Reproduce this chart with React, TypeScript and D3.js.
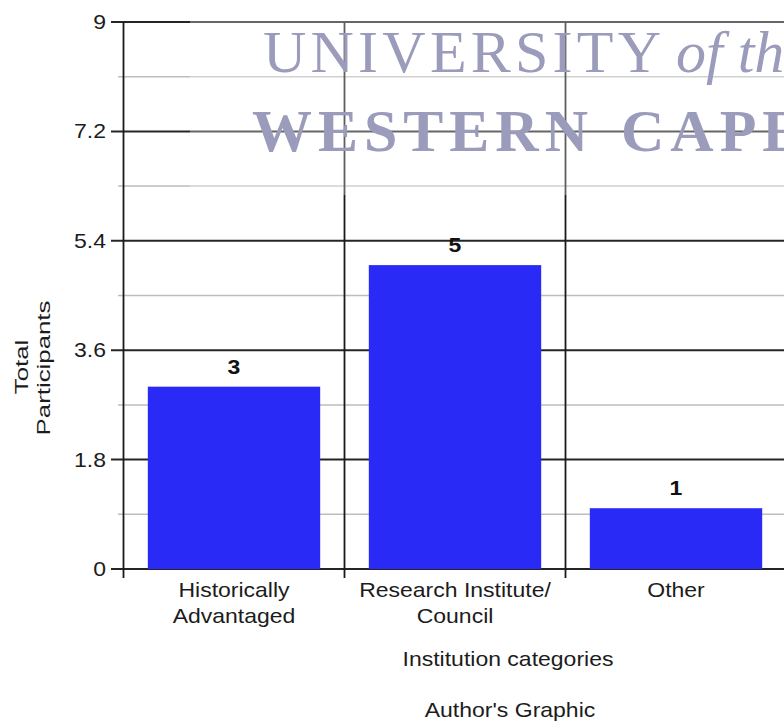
import React from "react";
import * as d3 from "d3";

// Institution categories (each entry split into its display lines)
const categories: string[][] = [
  ["Historically", "Advantaged"],
  ["Research Institute/", "Council"],
  ["Other"],
];
const participants: number[] = [3, 5, 1];

// Y axis ticks (labelled major lines) and unlabelled minor lines
const yTicks: number[] = [0, 1.8, 3.6, 5.4, 7.2, 9];
const yMinor: number[] = [0.9, 2.7, 4.5, 6.3, 8.1];

const yTitle: string[] = ["Total", "Participants"];
const xTitle = "Institution categories";
const caption = "Author's Graphic";

const W = 784;
const H = 722;
const FONT = "'Liberation Sans', Arial, Helvetica, sans-serif";
const SERIF = "'Liberation Serif', 'Times New Roman', Times, serif";
const SX = 1.15; // horizontal stretch applied to the chart lettering
const FS = 20;
const INK = "#1c1c1c";

const y = d3.scaleLinear().domain([0, 9]).range([569, 22]);
const x = d3
  .scaleBand<number>()
  .domain(categories.map((_, i) => i))
  .range([123.5, 786.5])
  .padding(0);
const barW = x.bandwidth() * 0.78;

const right = W + 10;
const bottom = y(0);

function HText({
  x: tx,
  y: ty,
  anchor = "middle",
  size = FS,
  weight = "normal",
  fill = INK,
  children,
}: {
  x: number;
  y: number;
  anchor?: string;
  size?: number;
  weight?: string;
  fill?: string;
  children: React.ReactNode;
}) {
  return (
    <text
      transform={`translate(${tx},${ty}) scale(${SX},1)`}
      textAnchor={anchor}
      fontSize={size}
      fontWeight={weight}
      fontFamily={FONT}
      fill={fill}
    >
      {children}
    </text>
  );
}

export default function App() {
  const boundaries = x.domain().map((d) => x(d) as number);
  return (
    <svg
      width={W}
      height={H}
      style={{ position: "absolute", left: 0, top: 0, background: "#fff" }}
    >
      <rect x={0} y={0} width={W} height={H} fill="#fff" />

      {/* minor grid lines */}
      {yMinor.map((t) => (
        <line
          key={`m${t}`}
          x1={118}
          x2={right}
          y1={y(t)}
          y2={y(t)}
          stroke="#bdbdbd"
          strokeWidth={1.5}
        />
      ))}

      {/* major grid lines with their ticks */}
      {yTicks.map((t) => (
        <line
          key={`g${t}`}
          x1={111}
          x2={right}
          y1={y(t)}
          y2={y(t)}
          stroke="#252525"
          strokeWidth={2}
        />
      ))}

      {/* category separators and y axis */}
      {boundaries.map((bx, i) => (
        <line
          key={`v${i}`}
          x1={bx}
          x2={bx}
          y1={y(9)}
          y2={bottom + 9}
          stroke="#1a1a1a"
          strokeWidth={1.8}
        />
      ))}

      {/* watermark */}
      <rect x={190} y={0} width={W - 190} height={195} fill="#fff" opacity={0.3} />
      <g fill="#9b9bbb" fontFamily={SERIF}>
        <text x={263} y={72} fontSize={60} textLength={398} lengthAdjust="spacing">
          UNIVERSITY
        </text>
        <text x={676} y={72} fontSize={60} fontStyle="italic">
          of the
        </text>
        <text
          x={252}
          y={151}
          fontSize={60}
          fontWeight="bold"
          textLength={336}
          lengthAdjust="spacing"
        >
          WESTERN
        </text>
        <text x={621} y={151} fontSize={60} fontWeight="bold" letterSpacing={6}>
          CAPE
        </text>
      </g>

      {/* bars */}
      {participants.map((v, i) => {
        const cx = (x(i) as number) + x.bandwidth() / 2;
        return (
          <rect
            key={`b${i}`}
            x={cx - barW / 2}
            y={y(v)}
            width={barW}
            height={bottom - y(v)}
            fill="#2a2af6"
          />
        );
      })}

      {/* value labels */}
      {participants.map((v, i) => {
        const cx = (x(i) as number) + x.bandwidth() / 2;
        return (
          <HText key={`vl${i}`} x={cx} y={y(v) - 13} weight="bold" fill="#111">
            {v}
          </HText>
        );
      })}

      {/* y tick labels */}
      {yTicks.map((t) => (
        <HText key={`t${t}`} x={106} y={y(t) + 7} anchor="end">
          {d3.format("~g")(t)}
        </HText>
      ))}

      {/* category labels */}
      {categories.map((lines, i) => {
        const cx = (x(i) as number) + x.bandwidth() / 2;
        return lines.map((ln, j) => (
          <HText key={`c${i}-${j}`} x={cx} y={597 + j * 26}>
            {ln}
          </HText>
        ));
      })}

      {/* axis titles */}
      <text
        transform="translate(28,367) rotate(-90) scale(1.36,1)"
        textAnchor="middle"
        fontSize={19}
        fontFamily={FONT}
        fill={INK}
      >
        {yTitle[0]}
      </text>
      <text
        transform="translate(50,368) rotate(-90) scale(1.36,1)"
        textAnchor="middle"
        fontSize={19}
        fontFamily={FONT}
        fill={INK}
      >
        {yTitle[1]}
      </text>
      <HText x={508} y={666}>
        {xTitle}
      </HText>
      <HText x={510} y={717}>
        {caption}
      </HText>
    </svg>
  );
}
